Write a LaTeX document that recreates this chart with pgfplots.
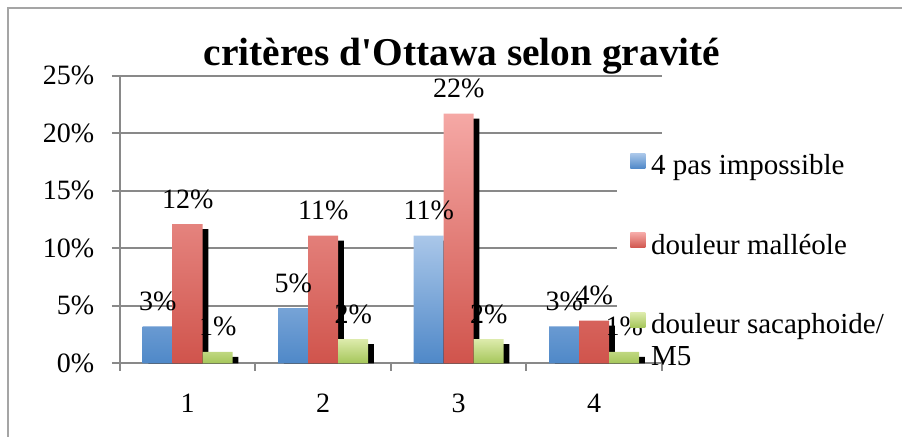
\documentclass[border=0pt]{standalone}
\usepackage{pgfplots}
\pgfplotsset{compat=1.18}
\usepackage{fontspec}
\setmainfont{Liberation Serif}
\definecolor{gridgray}{RGB}{137,137,137}
\definecolor{framegray}{RGB}{165,165,165}
\definecolor{bluetop}{RGB}{170,199,233}
\definecolor{bluebot}{RGB}{79,136,200}
\definecolor{redtop}{RGB}{245,168,165}
\definecolor{redbot}{RGB}{208,84,76}
\definecolor{greentop}{RGB}{221,235,172}
\definecolor{greenbot}{RGB}{165,198,90}
\begin{document}
\begin{tikzpicture}
\draw[framegray, line width=0.9pt] (4pt,-4pt) rectangle (480pt,-240pt);
\node[font=\bfseries\fontsize{19.7}{22}\selectfont, anchor=base, inner sep=0pt] at (231pt,-32.5pt) {critères d\textquotesingle Ottawa selon gravité};
\begin{axis}[
  set layers,
  at={(60pt,-181.65pt)}, anchor=south west,
  width=271pt, height=143.8pt, scale only axis,
  ybar, bar width=15pt,
  /pgf/number format/assume math mode=true,
  xmin=0.5, xmax=4.5, ymin=0, ymax=25,
  xtick={1,2,3,4},
  minor xtick={0.5,1.5,2.5,3.5,4.5},
  ytick={0,5,10,15,20,25},
  yticklabels={0\%,5\%,10\%,15\%,20\%,25\%},
  ymajorgrids, grid style={gridgray, line width=1pt},
  axis x line*=bottom, axis y line*=left,
  axis line style={gridgray, line width=1pt},
  tick align=outside, major tick length=4pt, minor tick length=3.7pt,
  tick style={gridgray, line width=1pt},
  major x tick style={draw=none},
  ticklabel style={font=\fontsize{14}{16}\selectfont},
  xticklabel style={yshift=-8pt},
  yticklabel style={xshift=-5.4pt},
  nodes near coords style={font=\fontsize{14}{16}\selectfont, anchor=base, yshift=8pt, inner sep=0pt, text=black},
  legend style={at={(axis description cs:0.917,0.745)}, anchor=north west, draw=none, fill=none,
    inner xsep=6.5pt, inner ysep=2pt, row sep=25.5pt, column sep=2.9pt,
    font=\fontsize{14.5}{17}\selectfont,
    nodes={inner xsep=0pt, inner ysep=0pt, text height=10pt, text depth=3.5pt}},
  legend cell align=left,
]
\begin{pgfonlayer}{axis grid}
\fill[white] (axis cs:4.168,0.5) rectangle (axis cs:4.6,18.5);
\end{pgfonlayer}
% blue
\addplot[forget plot, fill=black, draw=none, bar shift=-12.2pt] coordinates {(1,2.765) (2,4.365) (3,10.665) (4,2.765)};
\addplot[top color=bluetop, bottom color=bluebot, draw=none, bar shift=-15pt,
  nodes near coords={\pgfmathprintnumber[fixed,precision=0]{\pgfplotspointmeta}\%},
  legend image code/.code={\shade[top color=bluetop, bottom color=bluebot] (0pt,0pt) rectangle (7.5pt,7.5pt);}]
  coordinates {(1,3.2) (2,4.8) (3,11.1) (4,3.2)};
\addlegendentry{4 pas impossible}
% red
\addplot[forget plot, fill=black, draw=none, bar shift=2.8pt] coordinates {(1,11.665) (2,10.665) (3,21.265) (4,3.265)};
\addplot[top color=redtop, bottom color=redbot, draw=none, bar shift=0pt,
  nodes near coords={\pgfmathprintnumber[fixed,precision=0]{\pgfplotspointmeta}\%},
  legend image code/.code={\shade[top color=redtop, bottom color=redbot] (0pt,0pt) rectangle (7.5pt,7.5pt);}]
  coordinates {(1,12.1) (2,11.1) (3,21.7) (4,3.7)};
\addlegendentry{douleur malléole}
% green
\addplot[forget plot, fill=black, draw=none, bar shift=17.8pt] coordinates {(1,0.565) (2,1.665) (3,1.665) (4,0.565)};
\addplot[top color=greentop, bottom color=greenbot, draw=none, bar shift=15pt,
  nodes near coords={\pgfmathprintnumber[fixed,precision=0]{\pgfplotspointmeta}\%},
  legend image code/.code={\shade[top color=greentop, bottom color=greenbot] (0pt,0pt) rectangle (7.5pt,7.5pt);}]
  coordinates {(1,1.0) (2,2.1) (3,2.1) (4,1.0)};
\addlegendentry{\rlap{\raisebox{-15.8pt}[0pt][0pt]{M5}}douleur sacaphoide/}
\end{axis}
\pgfresetboundingbox
\path (0,0) rectangle (451pt,-218pt);
\end{tikzpicture}
\end{document}
